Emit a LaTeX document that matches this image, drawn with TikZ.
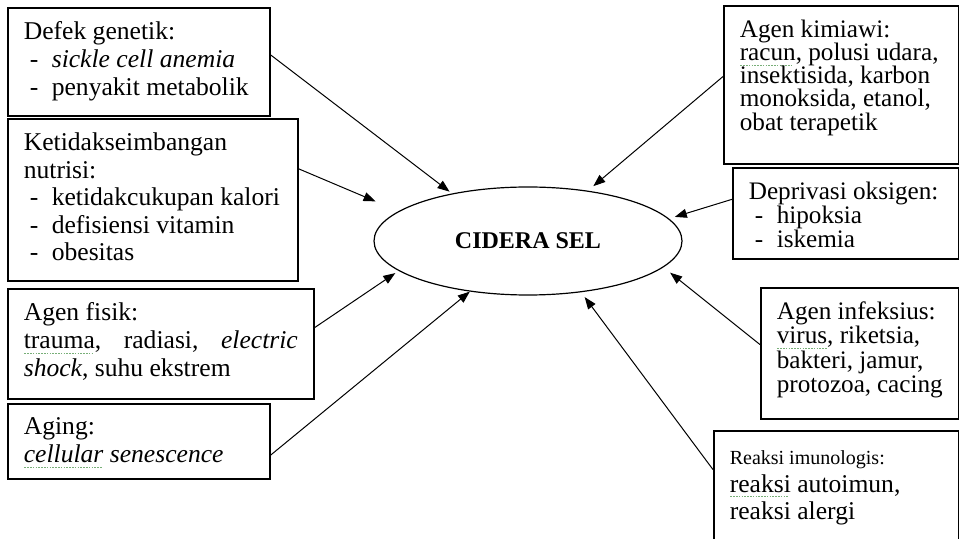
\documentclass[tikz,border=0pt]{standalone}
\usepackage{fontspec}
\setmainfont{Liberation Serif}
\usetikzlibrary{arrows.meta,shapes.geometric}
\definecolor{checkGreen}{RGB}{120,175,120}
%% A dash item of a list.
\newcommand{\butir}{\makebox[14pt][l]{\hspace{3pt}-}}
%% The green spell-check mark under a word.
\newsavebox{\cekBox}
\newcommand{\cek}[1]{%%
  \leavevmode\sbox{\cekBox}{#1}%%
  \rlap{\color{checkGreen}\hbox to \wd\cekBox{%%
    \leaders\hbox to 1.4pt{\hss\rule[-2.6pt]{0.8pt}{0.5pt}\hss}\hfill}}%%
  \usebox{\cekBox}}
%% A box: name, x, y (north west corner), width, height, text.
\newcommand{\kotak}[6]{%%
  \node[boxStyle] (#1) at (#2,#3)
    {\parbox[t][\dimexpr#5pt/2-14pt\relax][t]{\dimexpr#4pt/2-16pt\relax}{#6}};
}

\begin{document}
\begin{tikzpicture}[%%
  x=0.5pt,y=-0.5pt,
  boxStyle/.style={draw,line width=0.8pt,anchor=north west,
    inner xsep=8pt,inner ysep=7pt,font=\fontsize{12.8}{13.8}\selectfont},%%
  cellStyle/.style={ellipse,draw,line width=0.6pt,minimum width=154pt,
    minimum height=54pt,inner sep=0pt,font=\bfseries\fontsize{12}{14}\selectfont},%%
  arrowStyle/.style={-{Triangle[length=6pt,width=4.5pt]},line width=0.5pt}
]
\useasboundingbox (0,0) rectangle (959,539);
%%
%% The cell injury in the middle.
\node[cellStyle] (cidera) at (528,241) {CIDERA SEL};
%%
%% The causes on the left.
\kotak{defek}{7}{7}{262}{108}{Defek genetik:\\
  \butir\textit{sickle cell anemia}\\
  \butir penyakit metabolik}
\kotak{nutrisi}{7}{118}{290}{162}{Ketidakseimbangan\\ nutrisi:\\
  \butir ketidakcukupan~kalori\\
  \butir defisiensi vitamin\\
  \butir obesitas}
\kotak{fisik}{7}{288}{306}{110}{Agen fisik:\\
  \cek{trauma},\hfill radiasi,\hfill\textit{electric}\\
  \textit{shock}, suhu ekstrem}
\kotak{aging}{7}{403}{262}{75}{Aging:\\
  \textit{\cek{cellular} senescence}}
%%
%% The causes on the right.
\kotak{kimia}{723}{5}{235}{158}{\fontsize{12.6}{11.6}\selectfont Agen kimiawi:\\
  \cek{racun},~polusi~udara,\\ insektisida,~karbon\\
  monoksida,~etanol,\\ obat terapetik}
\kotak{oksigen}{732}{167}{226}{91}{\fontsize{12.6}{12}\selectfont Deprivasi~oksigen:\\
  \butir hipoksia\\
  \butir iskemia}
\kotak{infeksi}{760}{287}{198}{131}{\fontsize{12.6}{12.2}\selectfont Agen~infeksius:\\
  \cek{virus},~riketsia,\\ bakteri,~jamur,\\ protozoa,~cacing}
\kotak{reaksi}{713}{430}{245}{130}{\vspace*{3pt}%%
  {\fontsize{10}{12}\selectfont Reaksi imunologis:\par}
  \cek{reaksi}~autoimun,\\ reaksi~alergi}
%%
%% The arrows into the cell.
\draw[arrowStyle,shorten >=1.5pt] (defek.3) -- (cidera.148);
\draw[arrowStyle,shorten >=12.5pt] (nutrisi.12) -- (cidera.167);
\draw[arrowStyle,shorten >=2pt] (fisik.6) -- (cidera.193);
\draw[arrowStyle] (aging.-6) -- (cidera.221);
\draw[arrowStyle,shorten >=3.5pt] (kimia.176) -- (cidera.40);
\draw[arrowStyle,shorten >=3pt] (oksigen.173) -- (cidera.9);
\draw[arrowStyle,shorten >=4.3pt] (infeksi.175) -- (cidera.-11);
\draw[arrowStyle,shorten >=3pt] (reaksi.168) -- (cidera.-44);
\end{tikzpicture}
\end{document}
